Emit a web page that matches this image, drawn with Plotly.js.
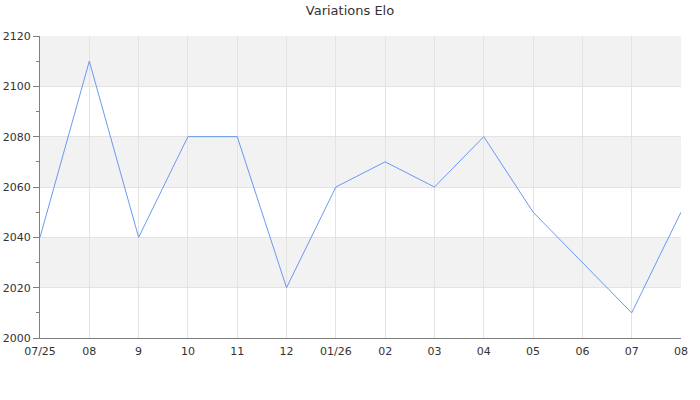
<!DOCTYPE html>
<html><head><meta charset="utf-8">
<script src="https://cdn.plot.ly/plotly-3.0.1.min.js"></script>
<style>body{margin:0;background:#fff}#c{width:700px;height:400px}</style>
</head><body><div id="c"></div>
<script>
const months = ["07/25","08","9","10","11","12","01/26","02","03","04","05","06","07","08"];
const elo = [2040,2110,2040,2080,2080,2020,2060,2070,2060,2080,2050,2030,2010,2050];
const yTicks = [2000,2020,2040,2060,2080,2100,2120];

const idx = months.map((m,i)=>i);
const bands = [];
for (let i = 0; i < yTicks.length-1; i++) {
  if ((yTicks.length-2-i) % 2 === 0) {
    bands.push({type:'rect', xref:'paper', yref:'y', x0:0, x1:1, y0:yTicks[i], y1:yTicks[i+1],
      fillcolor:'#f2f2f2', line:{width:0}, layer:'below'});
  }
}

Plotly.newPlot('c', [{
  x: idx, y: elo, type:'scatter', mode:'lines',
  line:{color:'#5b8def', width:0.9}, hoverinfo:'skip'
}], {
  width:700, height:400,
  margin:{l:40, r:19, t:36, b:62},
  paper_bgcolor:'#fff', plot_bgcolor:'rgba(0,0,0,0)',
  font:{family:'DejaVu Sans', size:11, color:'#333'},
  title:{text:'Variations Elo', x:0.5, xanchor:'center', y:0.985, yanchor:'top', font:{size:13, color:'#333'}},
  showlegend:false,
  shapes: bands,
  xaxis:{range:[0, months.length-1], tickvals:idx, ticktext:months, showgrid:true, gridcolor:'#e3e3e3', gridwidth:1,
    zeroline:false, showline:true, linecolor:'#808080', linewidth:1, ticks:'', ticklabelstandoff:3, fixedrange:true},
  yaxis:{range:[yTicks[0], yTicks[yTicks.length-1]], tickvals:yTicks, showgrid:true, gridcolor:'#e3e3e3', gridwidth:1,
    zeroline:false, showline:true, linecolor:'#808080', linewidth:1, ticks:'outside', ticklen:6, tickcolor:'#808080',
    minor:{dtick:10, ticklen:3, tickcolor:'#808080', showgrid:false, ticks:'outside'}, fixedrange:true}
}, {staticPlot:true});
</script></body></html>
